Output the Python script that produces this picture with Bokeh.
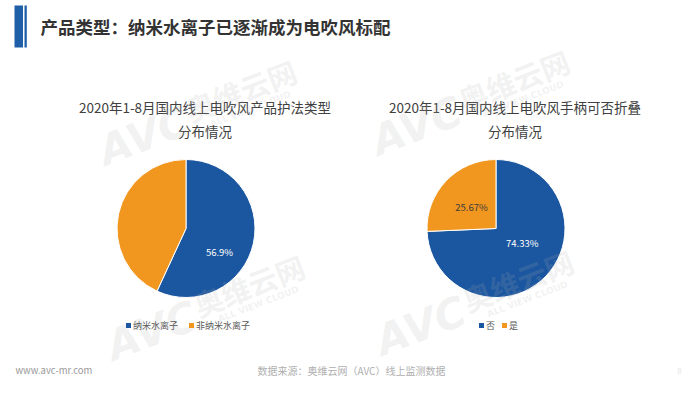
import math
from bokeh.plotting import figure
from bokeh.models import Range1d, ColumnDataSource
from bokeh.core.properties import value
from bokeh.embed import file_html
from bokeh.resources import INLINE

# ---------------- data ----------------
page_title = "产品类型：纳米水离子已逐渐成为电吹风标配"
chart1_title = ["2020年1-8月国内线上电吹风产品护法类型", "分布情况"]
chart1_categories = ["纳米水离子", "非纳米水离子"]
chart1_values = [56.9, 43.1]
chart1_labels = ["56.9%", ""]

chart2_title = ["2020年1-8月国内线上电吹风手柄可否折叠", "分布情况"]
chart2_categories = ["否", "是"]
chart2_values = [74.33, 25.67]
chart2_labels = ["74.33%", "25.67%"]

colors = ["#1B56A0", "#F1961E"]
label_colors = ["#FFFFFF", "#404040"]
footer_left = "www.avc-mr.com"
footer_source = "数据来源：奥维云网（AVC）线上监测数据"
page_number = "8"

FONT = "Noto Sans CJK SC"
W, H = 684, 378

def Y(ry):
    # reference pixel row -> data y
    return H - ry

p = figure(width=W, height=H, x_range=Range1d(0, W), y_range=Range1d(0, H),
           output_backend="svg", toolbar_location=None, min_border=0)
p.axis.visible = False
p.grid.visible = False
p.outline_line_color = None
p.background_fill_color = "#FFFFFF"
p.border_fill_color = "#FFFFFF"

# header bars
p.quad(left=[14, 24], right=[22.5, 26.3], top=[Y(5), Y(5)], bottom=[Y(47), Y(47)],
       fill_color="#1F5FA8", line_color=None)
p.text(x=[40], y=[Y(26)], text=[page_title], text_font=value(FONT), text_font_size="17.5px",
       text_font_style="bold", text_color="#333333", text_align="left", text_baseline="middle")


def pie(cx, cy, r, vals, title):
    total = sum(vals)
    starts, ends = [], []
    a = math.pi / 2
    for v in vals:
        b = a - 2 * math.pi * v / total
        starts.append(b)
        ends.append(a)
        a = b
    src = ColumnDataSource(dict(start=starts, end=ends, color=colors[:len(vals)]))
    p.wedge(x=cx, y=Y(cy), radius=r, start_angle="start", end_angle="end",
            fill_color="color", line_color="#FFFFFF", line_width=1, source=src)
    tx = cx + 19
    p.text(x=[tx, tx], y=[Y(106.5), Y(130)], text=title, text_font=value(FONT),
           text_font_size="13.5px", text_color="#404040", text_align="center",
           text_baseline="middle")


def pie_labels(cx, cy, labels, label_pos):
    for lab, (dx, dy), col in zip(labels, label_pos, label_colors):
        if lab:
            p.text(x=[cx + dx], y=[Y(cy + dy)], text=[lab], text_font=value(FONT),
                   text_font_size="9.5px", text_color=col, text_align="center",
                   text_baseline="middle")


pie(185.5, 228, 69, chart1_values, chart1_title)
pie(495.5, 228, 69, chart2_values, chart2_title)

# watermarks
wm_color = "#B0B0B0"
wm_alpha = 0.18
ang = math.radians(21)
for (ax, ay) in [(100, 152), (373, 142), (108, 347), (377, 342)]:
    p.text(x=[ax], y=[Y(ay)], text=["AVC"], angle=ang, text_font=value("DejaVu Sans"),
           text_font_size="42px", text_font_style="bold italic", text_color=wm_color,
           text_alpha=wm_alpha, text_align="left", text_baseline="alphabetic")
    p.text(x=[ax + 86], y=[Y(ay - 42)], text=["奥维云网"], angle=ang, text_font=value(FONT),
           text_font_size="29px", text_font_style="bold", text_color=wm_color,
           text_alpha=wm_alpha, text_align="left", text_baseline="alphabetic")
    p.text(x=[ax + 110], y=[Y(ay - 28)], text=["ALL VIEW CLOUD"], angle=ang,
           text_font=value("DejaVu Sans"), text_font_size="9px", text_font_style="bold",
           text_color=wm_color, text_alpha=wm_alpha, text_align="left",
           text_baseline="alphabetic")

pie_labels(185.5, 228, chart1_labels, [(33.5, 23.7), (0, 0)])
pie_labels(495.5, 228, chart2_labels, [(26.2, 14.7), (-24.5, -22)])

# legends
def legend(x0, cats, gaps):
    x = x0
    for cat, col, gap in zip(cats, colors, gaps):
        p.scatter(x=[x], y=[Y(325)], marker="square", size=5, fill_color=col, line_color=None)
        p.text(x=[x + 4.5], y=[Y(325)], text=[cat], text_font=value(FONT), text_font_size="9px",
               text_color="#595959", text_align="left", text_baseline="middle")
        x += gap

legend(128, chart1_categories, [63, 0])
legend(481, chart2_categories, [23, 0])

# footer
p.text(x=[15], y=[Y(369.5)], text=[footer_left], text_font=value(FONT), text_font_size="9.5px",
       text_color="#9A9A9A", text_align="left", text_baseline="middle")
p.text(x=[351], y=[Y(369.5)], text=[footer_source], text_font=value(FONT), text_font_size="10px",
       text_color="#AFAFAF", text_align="center", text_baseline="middle")
p.text(x=[679], y=[Y(370)], text=[page_number], text_font=value(FONT), text_font_size="8px",
       text_color="#E6E6E6", text_align="center", text_baseline="middle")

open("out.html", "w").write(file_html(p, INLINE))
